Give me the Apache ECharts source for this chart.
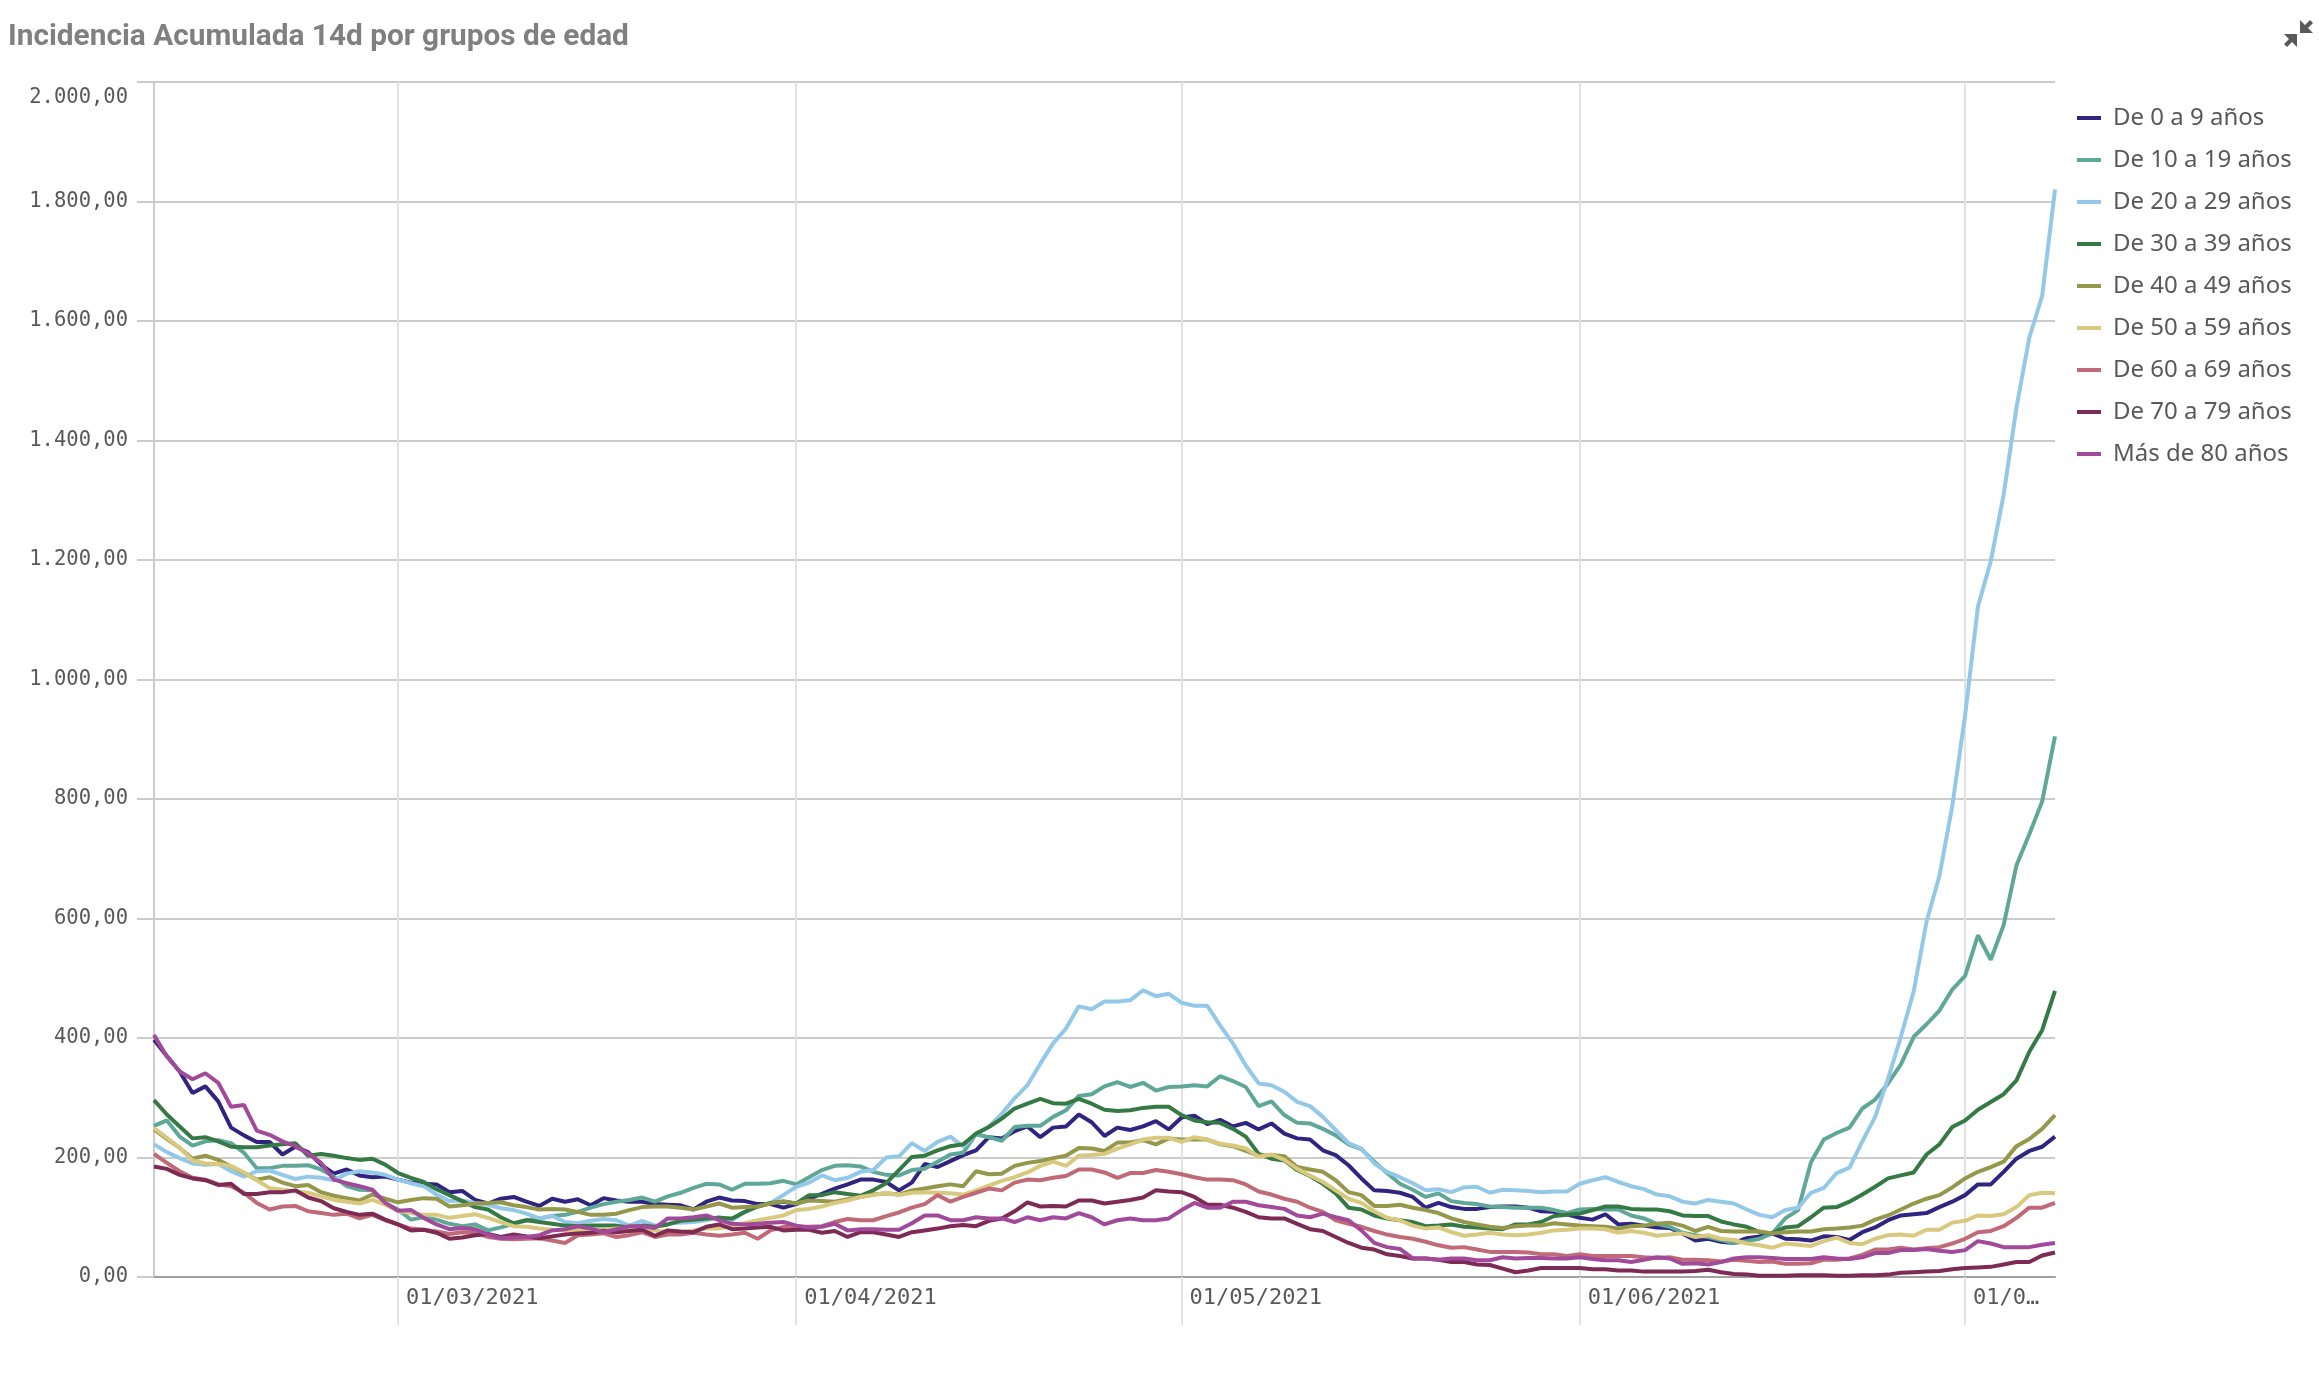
<!DOCTYPE html>
<html>
<head>
<meta charset="utf-8">
<title>Incidencia Acumulada 14d por grupos de edad</title>
<script src="https://cdn.jsdelivr.net/npm/echarts@6/dist/echarts.min.js"></script>
<style>
    html, body { margin: 0; padding: 0; background: #fff; }
    #main { width: 2319px; height: 1387px; }
</style>
</head>
<body>
<div id="main"></div>
<script>
// valores, un punto por dia desde el 10/02/2021
var de0a9 = [397,370,344,308,319,294,250,237,226,226,205,218,209,188,173,180,170,167,168,163,158,156,155,142,144,129,123,131,
    134,126,119,131,126,130,120,132,128,126,126,122,121,120,113,126,133,128,127,122,122,116,122,131,139,148,
    155,163,163,159,145,158,189,184,194,204,212,234,232,244,252,234,250,252,272,259,236,250,246,252,261,247,267,
    270,256,263,252,258,247,257,240,232,230,212,204,187,165,145,144,141,134,116,124,117,114,114,117,118,118,116,
    110,109,105,99,96,105,88,89,86,83,82,73,61,64,59,57,65,68,73,64,63,61,68,67,62,75,
    83,95,103,105,107,117,126,137,155,155,176,198,211,218,235];
var de10a19 = [253,262,235,220,227,229,224,208,182,182,186,186,187,180,168,152,146,145,124,113,96,100,96,89,85,88,78,83,
    89,95,98,102,104,109,116,122,126,129,133,126,135,141,149,156,155,146,156,156,157,161,155,167,179,186,
    187,185,176,171,170,179,181,193,205,208,239,234,228,251,253,253,268,279,303,306,319,326,318,325,312,318,319,
    321,319,336,328,318,286,294,271,258,257,248,237,222,214,193,174,156,146,134,140,127,124,122,118,117,116,116,
    116,112,107,113,114,113,113,103,98,89,84,74,70,67,62,57,60,64,73,98,112,192,230,241,250,282,
    297,324,356,402,423,446,481,504,572,531,589,689,741,796,905];
var de20a29 = [222,209,199,190,188,189,177,168,177,178,171,164,168,166,162,173,177,175,171,163,157,152,138,127,128,124,121,115,
    112,106,98,102,92,90,94,97,95,86,94,86,89,91,92,95,100,95,109,118,124,137,151,158,170,162,
    166,176,179,200,202,224,211,226,235,218,239,252,273,299,321,357,391,416,453,448,461,461,463,480,470,474,459,
    454,454,421,391,354,324,321,310,293,286,268,246,224,215,190,176,167,157,145,147,142,150,151,141,146,145,144,
    142,143,143,156,162,167,159,152,147,138,135,126,123,129,126,123,113,104,100,112,116,141,149,174,183,227,
    268,332,402,478,595,671,788,940,1122,1198,1309,1455,1572,1642,1820];
var de30a39 = [296,272,252,232,234,227,218,217,217,220,222,224,203,206,203,199,196,198,188,174,166,159,147,137,127,117,113,100,
    90,95,92,89,86,85,86,86,86,83,86,84,88,94,96,98,99,98,109,118,124,126,123,137,137,142,
    139,136,145,157,179,201,203,212,219,222,240,251,265,282,290,298,291,290,298,290,280,278,279,283,285,285,271,
    262,259,258,248,235,206,198,195,179,169,156,140,116,113,103,98,95,92,85,86,88,84,83,81,80,88,88,
    92,102,104,106,112,118,118,114,113,113,110,103,102,102,93,88,84,75,73,83,85,100,116,117,126,138,
    151,165,170,175,205,222,251,262,280,293,306,329,377,413,479];
var de40a49 = [247,231,216,198,203,196,185,174,163,167,158,152,154,142,136,132,128,138,131,125,129,132,131,118,120,123,124,125,
    120,117,113,114,113,109,104,104,106,112,117,118,118,116,113,118,123,116,117,118,123,127,123,128,127,126,
    130,134,138,140,138,145,148,152,155,152,177,172,173,186,191,194,199,203,216,215,211,225,225,229,222,232,230,
    230,230,222,219,211,203,204,202,184,180,176,162,142,137,119,119,121,116,112,107,98,92,88,84,82,85,86,
    86,90,88,86,85,84,81,85,86,89,91,86,77,84,77,76,76,76,73,75,76,76,80,81,83,86,
    96,103,113,123,131,137,150,165,176,184,193,219,231,248,271];
var de50a59 = [249,233,216,195,190,189,186,175,162,149,146,143,141,135,129,126,123,129,121,111,107,104,104,99,102,105,99,92,
    85,84,81,79,78,78,78,79,81,81,80,78,75,75,78,81,81,86,90,95,99,103,112,114,118,124,
    128,134,137,141,137,141,142,141,140,138,145,153,161,167,175,186,193,186,203,204,206,215,222,230,233,233,226,
    234,230,223,220,215,201,205,196,181,170,159,145,131,124,110,99,95,86,81,83,75,69,71,74,71,70,71,
    74,78,79,81,81,80,74,77,74,69,71,73,67,70,64,62,56,53,49,56,54,52,60,66,57,55,
    64,70,71,69,79,79,91,94,103,102,105,117,137,141,140];
var de60a69 = [206,191,177,166,163,155,152,141,124,113,118,119,110,107,104,106,98,104,95,88,81,79,76,72,75,74,67,64,
    63,64,65,61,57,70,71,73,67,70,75,67,71,71,74,71,69,71,74,64,78,84,84,84,85,92,
    97,95,95,102,108,116,122,137,126,134,141,148,145,158,163,162,166,169,180,180,175,166,174,174,179,176,172,
    167,163,163,162,155,143,138,131,126,116,109,95,89,84,77,71,67,64,59,53,49,50,46,42,42,42,41,
    38,38,35,38,35,35,35,35,33,32,33,29,29,28,26,29,27,25,26,22,22,23,29,29,31,37,
    46,46,49,46,48,50,56,64,75,77,85,99,116,116,124];
var de70a79 = [185,181,171,165,162,154,156,139,139,142,142,145,133,127,115,109,104,106,96,88,78,79,74,64,66,70,72,67,
    71,68,65,68,71,73,74,77,75,77,79,69,78,76,75,84,88,80,81,83,84,78,79,79,74,77,
    67,75,75,71,67,75,78,81,85,87,85,94,98,110,125,118,119,118,128,128,123,126,129,133,145,143,142,
    134,121,121,116,109,100,98,98,89,80,77,67,57,49,46,38,35,31,31,29,25,25,21,20,14,8,11,
    15,15,15,15,13,13,11,11,9,9,9,9,10,12,8,5,4,2,2,2,3,3,3,2,2,3,
    3,4,7,8,9,10,13,15,16,17,21,25,25,36,41];
var masDe80 = [405,369,344,331,341,325,285,288,245,238,227,219,207,191,163,157,152,146,124,111,112,99,88,80,82,80,71,65,
    66,67,70,78,80,85,81,75,80,85,85,82,98,98,100,103,95,89,88,89,91,92,86,83,84,89,
    78,80,80,79,79,90,103,103,95,95,100,98,98,92,100,95,100,98,107,100,88,95,98,95,95,98,112,
    124,116,116,126,126,120,117,114,103,100,106,100,95,78,57,50,47,31,31,29,31,31,28,28,33,31,32,
    32,31,31,33,30,28,28,25,29,33,31,22,23,21,25,31,33,33,32,30,30,30,33,31,30,33,
    40,40,45,45,47,44,42,45,60,56,50,50,50,54,57];

var nombres = ['De 0 a 9 años', 'De 10 a 19 años', 'De 20 a 29 años', 'De 30 a 39 años', 'De 40 a 49 años',
    'De 50 a 59 años', 'De 60 a 69 años', 'De 70 a 79 años', 'Más de 80 años'];
var valores = [de0a9, de10a19, de20a29, de30a39, de40a49, de50a59, de60a69, de70a79, masDe80];
var colores = ['#2f2480', '#5fa897', '#94c8e8', '#357a45', '#95974a', '#d8c97f', '#c06a78', '#7d2a55', '#a14a9a'];

// etiquetas del eje x, la ultima sale cortada en el original
var etiquetasMes = { '01/03/2021': '01/03/2021', '01/04/2021': '01/04/2021', '01/05/2021': '01/05/2021',
    '01/06/2021': '01/06/2021', '01/07/2021': '01/0…' };

function pad(n) { return n < 10 ? '0' + n : '' + n; }

var fechas = [];
for (var i = 0; i < de0a9.length; i++) {
    var d = new Date(Date.UTC(2021, 1, 10 + i));
    fechas.push(pad(d.getUTCDate()) + '/' + pad(d.getUTCMonth() + 1) + '/' + d.getUTCFullYear());
}

function esMes(index, value) { return etiquetasMes[value] !== undefined; }

function formatoY(v) {
    var miles = Math.floor(v / 1000);
    var resto = v % 1000;
    if (miles > 0) {
        return miles + '.' + ('00' + resto).slice(-3) + ',00';
    }
    return resto + ',00';
}

var myChart = echarts.init(document.getElementById('main'), null, { renderer: 'canvas' });

var option = {
    animation: false,
    color: colores,
    title: {
        text: 'Incidencia Acumulada 14d por grupos de edad',
        left: 3,
        top: 18,
        textStyle: { fontFamily: 'Roboto', fontWeight: 'bold', fontSize: 29.8, color: '#808080' }
    },
    legend: {
        orient: 'vertical',
        left: 2072,
        top: 100,
        icon: 'rect',
        itemWidth: 24,
        itemHeight: 4,
        itemGap: 16,
        data: nombres,
        textStyle: { fontFamily: 'Noto Sans', fontSize: 24, color: '#595959', padding: [0, 0, 0, 7], lineHeight: 26 }
    },
    grid: { left: 154, right: 264, top: 82, bottom: 110 },
    xAxis: {
        type: 'category',
        boundaryGap: false,
        data: fechas,
        axisLine: { lineStyle: { color: '#a0a0a0', width: 2 } },
        axisTick: { interval: esMes, length: 48, lineStyle: { color: '#e2e2e2', width: 2 } },
        splitLine: { show: true, interval: esMes, lineStyle: { color: '#e2e2e2', width: 2 } },
        axisLabel: {
            interval: esMes,
            align: 'left',
            margin: 10,
            padding: [0, 0, 0, 8],
            fontFamily: 'DejaVu Sans Mono',
            fontSize: 22,
            color: '#595959',
            formatter: function (v) { return etiquetasMes[v]; }
        }
    },
    yAxis: {
        type: 'value',
        min: 0,
        max: 2000,
        interval: 200,
        axisLine: { show: true, lineStyle: { color: '#cccccc', width: 2 } },
        axisTick: { show: true, length: 17, lineStyle: { color: '#cccccc', width: 2 } },
        splitLine: { show: true, lineStyle: { color: '#cccccc', width: 2 } },
        axisLabel: {
            margin: 26,
            fontFamily: 'DejaVu Sans Mono',
            fontSize: 20.5,
            color: '#595959',
            lineHeight: 24,
            padding: [4, 0, 0, 0],
            verticalAlignMaxLabel: 'top',
            formatter: formatoY
        }
    },
    series: nombres.map(function (nombre, k) {
        return {
            name: nombre,
            type: 'line',
            data: valores[k],
            showSymbol: false,
            symbol: 'none',
            lineStyle: { width: 4 }
        };
    }),
    // icono de pantalla completa arriba a la derecha
    graphic: [
        { type: 'polygon', shape: { points: [[2300, 20], [2300, 33], [2313, 33], [2308, 28], [2313, 23], [2310, 20], [2305, 25]] }, style: { fill: '#595959' } },
        { type: 'polygon', shape: { points: [[2297, 47], [2297, 34], [2284, 34], [2289, 39], [2284, 44], [2287, 47], [2292, 42]] }, style: { fill: '#595959' } }
    ]
};

myChart.setOption(option);
</script>
</body>
</html>
